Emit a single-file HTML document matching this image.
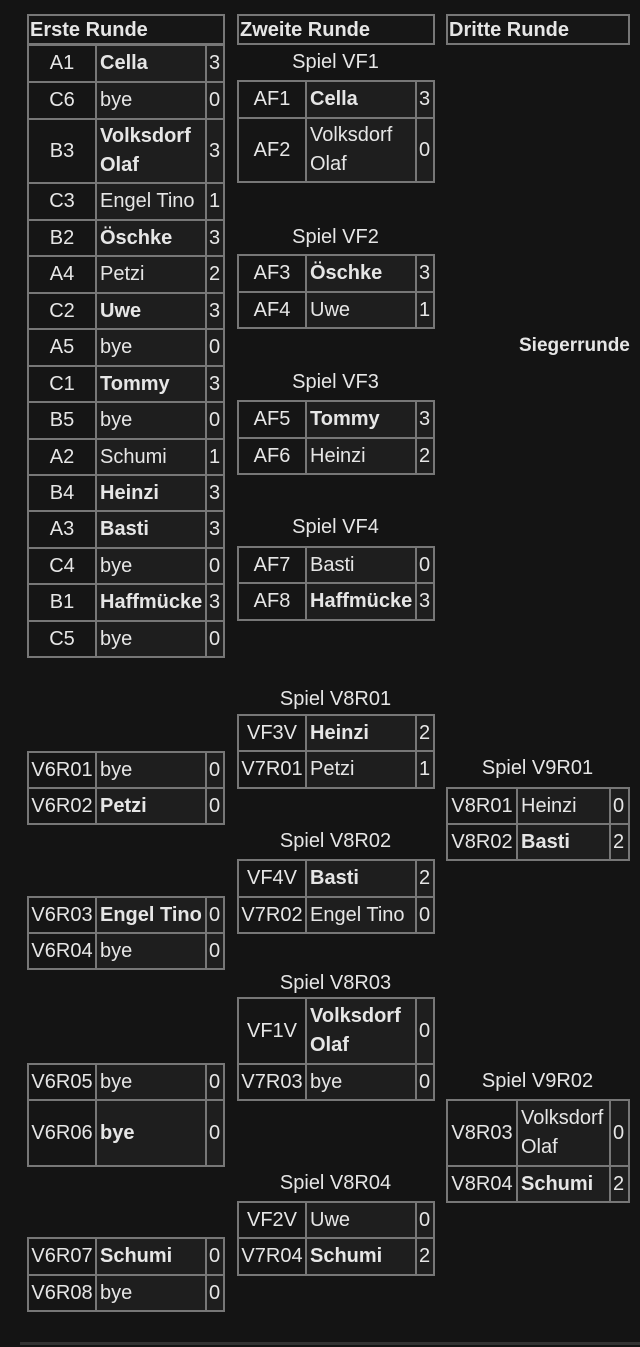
<!DOCTYPE html>
<html><head><meta charset="utf-8"><style>
body{margin:0;width:640px;height:1347px;background:#141414;position:relative;overflow:hidden;font-family:"Liberation Sans",sans-serif;color:#e6e6e6;font-size:20px}
table{position:absolute;border-collapse:collapse;table-layout:fixed}
td{border:2px solid #777;padding:0 0 0 3px;line-height:29px;white-space:nowrap;overflow:hidden}
td.c{background:#151515;text-align:center;padding:0}
td.n{background:#1e1e1e}
td.s{background:#1e1e1e;padding:0 0 0 2px}
b{font-weight:bold}
.h{position:absolute;border:2px solid #777;height:27px;line-height:27px;font-weight:bold;padding-left:1px;box-sizing:border-box;background:#161616}
.l{position:absolute;text-align:center;width:197px;line-height:22px}
</style></head><body>
<div class="h" style="left:27px;top:14px;width:198px;height:31px;line-height:29px">Erste Runde</div>
<div class="h" style="left:237px;top:14px;width:198px;height:31px;line-height:29px">Zweite Runde</div>
<div class="h" style="left:446px;top:14px;width:184px;height:31px;line-height:29px">Dritte Runde</div>

<table style="left:27px;top:44px;width:196px"><colgroup><col style="width:68px"><col style="width:110px"><col style="width:18px"></colgroup>
<tr style="height:37px"><td class="c">A1</td><td class="n"><b>Cella</b></td><td class="s">3</td></tr>
<tr style="height:37px"><td class="c">C6</td><td class="n">bye</td><td class="s">0</td></tr>
<tr style="height:64px"><td class="c">B3</td><td class="n" style="white-space:normal"><b>Volksdorf Olaf</b></td><td class="s">3</td></tr>
<tr style="height:37px"><td class="c">C3</td><td class="n">Engel Tino</td><td class="s">1</td></tr>
<tr style="height:36px"><td class="c">B2</td><td class="n"><b>Öschke</b></td><td class="s">3</td></tr>
<tr style="height:37px"><td class="c">A4</td><td class="n">Petzi</td><td class="s">2</td></tr>
<tr style="height:36px"><td class="c">C2</td><td class="n"><b>Uwe</b></td><td class="s">3</td></tr>
<tr style="height:37px"><td class="c">A5</td><td class="n">bye</td><td class="s">0</td></tr>
<tr style="height:36px"><td class="c">C1</td><td class="n"><b>Tommy</b></td><td class="s">3</td></tr>
<tr style="height:37px"><td class="c">B5</td><td class="n">bye</td><td class="s">0</td></tr>
<tr style="height:36px"><td class="c">A2</td><td class="n">Schumi</td><td class="s">1</td></tr>
<tr style="height:36px"><td class="c">B4</td><td class="n"><b>Heinzi</b></td><td class="s">3</td></tr>
<tr style="height:37px"><td class="c">A3</td><td class="n"><b>Basti</b></td><td class="s">3</td></tr>
<tr style="height:36px"><td class="c">C4</td><td class="n">bye</td><td class="s">0</td></tr>
<tr style="height:37px"><td class="c">B1</td><td class="n"><b>Haffmücke</b></td><td class="s">3</td></tr>
<tr style="height:36px"><td class="c">C5</td><td class="n">bye</td><td class="s">0</td></tr>
</table>

<div class="l" style="left:237px;top:51px">Spiel VF1</div>
<table style="left:237px;top:80px;width:196px"><colgroup><col style="width:68px"><col style="width:110px"><col style="width:18px"></colgroup>
<tr style="height:37px"><td class="c">AF1</td><td class="n"><b>Cella</b></td><td class="s">3</td></tr>
<tr style="height:64px"><td class="c">AF2</td><td class="n" style="white-space:normal">Volksdorf Olaf</td><td class="s">0</td></tr></table>

<div class="l" style="left:237px;top:226px">Spiel VF2</div>
<table style="left:237px;top:254px;width:196px"><colgroup><col style="width:68px"><col style="width:110px"><col style="width:18px"></colgroup>
<tr style="height:37px"><td class="c">AF3</td><td class="n"><b>Öschke</b></td><td class="s">3</td></tr>
<tr style="height:36px"><td class="c">AF4</td><td class="n">Uwe</td><td class="s">1</td></tr></table>

<div class="l" style="left:237px;top:371px">Spiel VF3</div>
<table style="left:237px;top:400px;width:196px"><colgroup><col style="width:68px"><col style="width:110px"><col style="width:18px"></colgroup>
<tr style="height:37px"><td class="c">AF5</td><td class="n"><b>Tommy</b></td><td class="s">3</td></tr>
<tr style="height:36px"><td class="c">AF6</td><td class="n">Heinzi</td><td class="s">2</td></tr></table>

<div class="l" style="left:237px;top:516px">Spiel VF4</div>
<table style="left:237px;top:546px;width:196px"><colgroup><col style="width:68px"><col style="width:110px"><col style="width:18px"></colgroup>
<tr style="height:36px"><td class="c">AF7</td><td class="n">Basti</td><td class="s">0</td></tr>
<tr style="height:37px"><td class="c">AF8</td><td class="n"><b>Haffmücke</b></td><td class="s">3</td></tr></table>

<div style="position:absolute;left:519px;top:335px;font-weight:bold;line-height:22px;font-size:19px">Siegerrunde</div>

<div class="l" style="left:237px;top:688px">Spiel V8R01</div>
<table style="left:237px;top:714px;width:196px"><colgroup><col style="width:68px"><col style="width:110px"><col style="width:18px"></colgroup>
<tr style="height:36px"><td class="c">VF3V</td><td class="n"><b>Heinzi</b></td><td class="s">2</td></tr>
<tr style="height:37px"><td class="c">V7R01</td><td class="n">Petzi</td><td class="s">1</td></tr></table>

<table style="left:27px;top:751px;width:196px"><colgroup><col style="width:68px"><col style="width:110px"><col style="width:18px"></colgroup>
<tr style="height:36px"><td class="c">V6R01</td><td class="n">bye</td><td class="s">0</td></tr>
<tr style="height:36px"><td class="c">V6R02</td><td class="n"><b>Petzi</b></td><td class="s">0</td></tr></table>

<div class="l" style="left:439px;top:757px">Spiel V9R01</div>
<table style="left:446px;top:787px;width:182px"><colgroup><col style="width:70px"><col style="width:93px"><col style="width:19px"></colgroup>
<tr style="height:36px"><td class="c">V8R01</td><td class="n">Heinzi</td><td class="s">0</td></tr>
<tr style="height:36px"><td class="c">V8R02</td><td class="n"><b>Basti</b></td><td class="s">2</td></tr></table>

<div class="l" style="left:237px;top:830px">Spiel V8R02</div>
<table style="left:237px;top:859px;width:196px"><colgroup><col style="width:68px"><col style="width:110px"><col style="width:18px"></colgroup>
<tr style="height:37px"><td class="c">VF4V</td><td class="n"><b>Basti</b></td><td class="s">2</td></tr>
<tr style="height:36px"><td class="c">V7R02</td><td class="n">Engel Tino</td><td class="s">0</td></tr></table>

<table style="left:27px;top:896px;width:196px"><colgroup><col style="width:68px"><col style="width:110px"><col style="width:18px"></colgroup>
<tr style="height:36px"><td class="c">V6R03</td><td class="n"><b>Engel Tino</b></td><td class="s">0</td></tr>
<tr style="height:36px"><td class="c">V6R04</td><td class="n">bye</td><td class="s">0</td></tr></table>

<div class="l" style="left:237px;top:972px">Spiel V8R03</div>
<table style="left:237px;top:997px;width:196px"><colgroup><col style="width:68px"><col style="width:110px"><col style="width:18px"></colgroup>
<tr style="height:66px"><td class="c">VF1V</td><td class="n" style="white-space:normal"><b>Volksdorf Olaf</b></td><td class="s">0</td></tr>
<tr style="height:36px"><td class="c">V7R03</td><td class="n">bye</td><td class="s">0</td></tr></table>

<table style="left:27px;top:1063px;width:196px"><colgroup><col style="width:68px"><col style="width:110px"><col style="width:18px"></colgroup>
<tr style="height:36px"><td class="c">V6R05</td><td class="n">bye</td><td class="s">0</td></tr>
<tr style="height:66px"><td class="c">V6R06</td><td class="n"><b>bye</b></td><td class="s">0</td></tr></table>

<div class="l" style="left:439px;top:1070px">Spiel V9R02</div>
<table style="left:446px;top:1099px;width:182px"><colgroup><col style="width:70px"><col style="width:93px"><col style="width:19px"></colgroup>
<tr style="height:66px"><td class="c">V8R03</td><td class="n" style="white-space:normal">Volksdorf Olaf</td><td class="s">0</td></tr>
<tr style="height:36px"><td class="c">V8R04</td><td class="n"><b>Schumi</b></td><td class="s">2</td></tr></table>

<div class="l" style="left:237px;top:1172px">Spiel V8R04</div>
<table style="left:237px;top:1201px;width:196px"><colgroup><col style="width:68px"><col style="width:110px"><col style="width:18px"></colgroup>
<tr style="height:36px"><td class="c">VF2V</td><td class="n">Uwe</td><td class="s">0</td></tr>
<tr style="height:37px"><td class="c">V7R04</td><td class="n"><b>Schumi</b></td><td class="s">2</td></tr></table>

<table style="left:27px;top:1237px;width:196px"><colgroup><col style="width:68px"><col style="width:110px"><col style="width:18px"></colgroup>
<tr style="height:37px"><td class="c">V6R07</td><td class="n"><b>Schumi</b></td><td class="s">0</td></tr>
<tr style="height:36px"><td class="c">V6R08</td><td class="n">bye</td><td class="s">0</td></tr></table>

<div style="position:absolute;left:20px;top:1342px;width:620px;height:3px;background:#333"></div>
</body></html>
